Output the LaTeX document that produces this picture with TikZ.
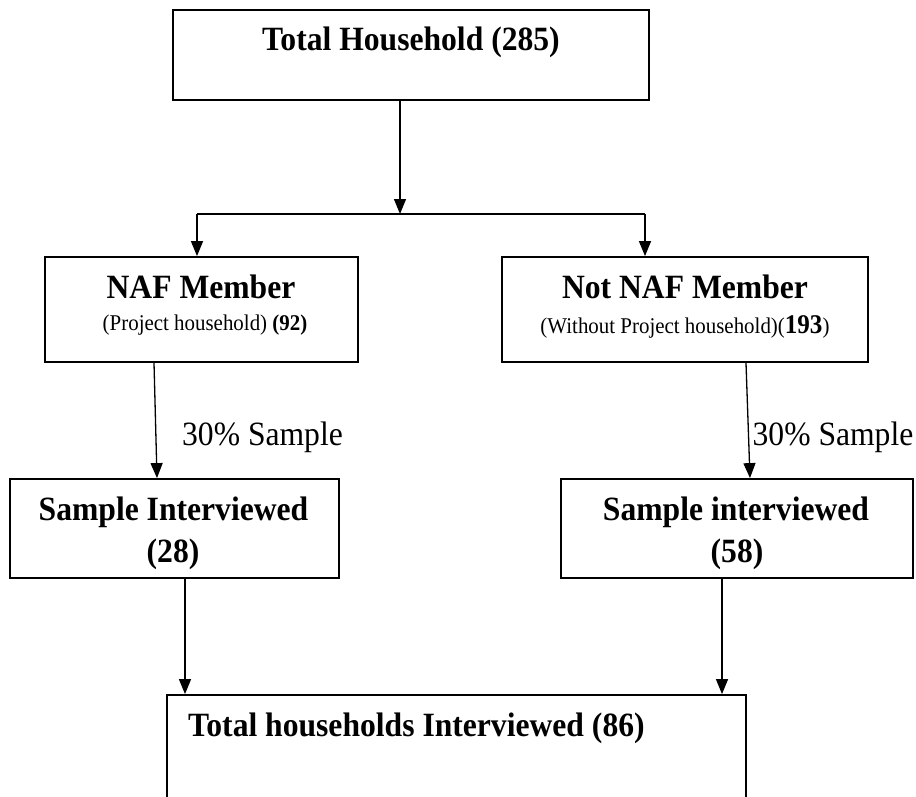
\documentclass[tikz,border=0pt]{standalone}
\usepackage{fontspec}
\setmainfont{Liberation Serif}[FakeStretch=0.93]
\usetikzlibrary{arrows.meta}
\tikzset{
  box/.style={draw, line width=1.8pt, inner sep=0pt, rectangle},
  big/.style={font=\fontsize{34}{40}\selectfont\bfseries, inner sep=0pt},
  bigreg/.style={font=\fontsize{34}{40}\selectfont, inner sep=0pt},
  small/.style={font=\fontsize{22.5}{26}\selectfont, inner sep=0pt},
  conn/.style={line width=1.3pt},
  arr/.style={line width=1.3pt, -{Triangle[length=15pt,width=12pt]}},
}
\begin{document}
\begin{tikzpicture}[x=1pt,y=-1pt]
\useasboundingbox (0,0) rectangle (916,797);
\clip (0,0) rectangle (916,797);
% boxes
\node[box, minimum width=476pt, minimum height=90pt] (top) at (411,55) {};
\node[box, minimum width=313pt, minimum height=105pt] (naf) at (201.5,309.5) {};
\node[box, minimum width=366pt, minimum height=105pt] (notnaf) at (685,309.5) {};
\node[box, minimum width=329pt, minimum height=99pt] (sl) at (174.5,528.5) {};
\node[box, minimum width=352pt, minimum height=99pt] (sr) at (737,528.5) {};
\node[box, minimum width=579pt, minimum height=115pt] (tot) at (456.5,752.5) {};
% texts
\node[big, anchor=base] (ttop) at (411,51) {Total Household (285)};
\node[big, anchor=base] (tnaf) at (201,298) {NAF Member};
\node[small, anchor=base] (snaf) at (205,330) {(Project household) \textbf{(92)}};
\node[big, anchor=base] (tnot) at (685,298) {Not NAF Member};
\node[small, anchor=base] (snot) at (685,333) {(Without Project household)({\fontsize{27}{30}\selectfont\textbf{193}})};
\node[bigreg, anchor=base] (pl) at (262.5,445) {30\% Sample};
\node[bigreg, anchor=base] (pr) at (833,445) {30\% Sample};
\node[big, anchor=base] (tsl) at (173.5,520) {Sample Interviewed};
\node[big, anchor=base] (nsl) at (173,562) {(28)};
\node[big, anchor=base] (tsr) at (736,520) {Sample interviewed};
\node[big, anchor=base] (nsr) at (737,562) {(58)};
\node[big, anchor=base west] (ttot) at (188,736) {Total households Interviewed (86)};
% connector points
\coordinate (jc) at (400,214);
\coordinate (jl) at (197,214);
\coordinate (jr) at (645,214);
\coordinate (a1) at (154,0);
\coordinate (b1) at (157,0);
\coordinate (a2) at (746,0);
\coordinate (b2) at (750,0);
\coordinate (c1) at (185,0);
\coordinate (c2) at (722,0);
% connectors
\draw[arr] (top.south -| jc) -- (jc);
\draw[conn] (jl) -- (jr);
\draw[arr] (jl) -- (jl |- naf.north);
\draw[arr] (jr) -- (jr |- notnaf.north);
\draw[arr] (a1 |- naf.south) -- (b1 |- sl.north);
\draw[arr] (a2 |- notnaf.south) -- (b2 |- sr.north);
\draw[arr] (c1 |- sl.south) -- (c1 |- tot.north);
\draw[arr] (c2 |- sr.south) -- (c2 |- tot.north);
\end{tikzpicture}
\end{document}
